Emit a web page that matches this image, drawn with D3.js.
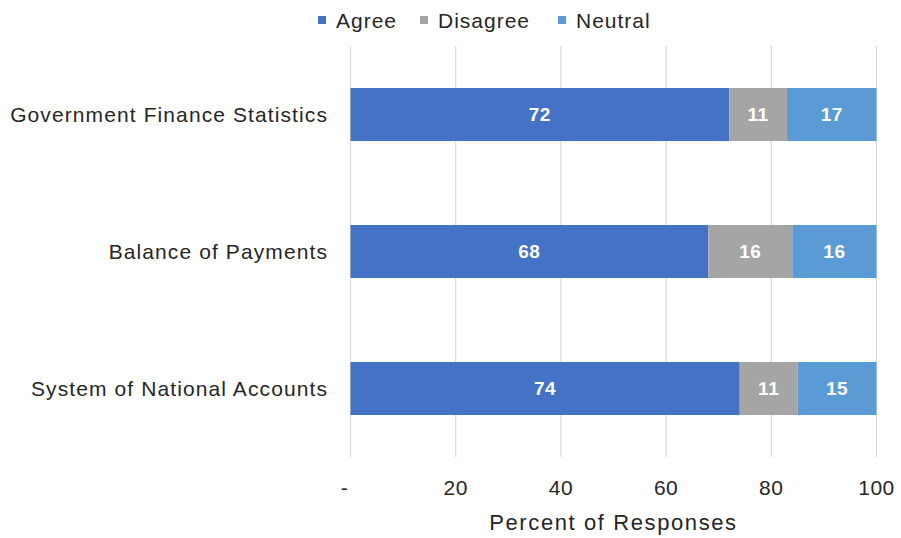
<!DOCTYPE html>
<html>
<head>
<meta charset="utf-8">
<script src="https://cdn.jsdelivr.net/npm/d3@7"></script>
<style>
  body { margin: 0; background: #fff; }
  svg { font-family: "Liberation Sans", Arial, sans-serif; }
</style>
</head>
<body>
<svg id="chart" width="901" height="538"></svg>
<script>
// 数据
const categories = ["Government Finance Statistics", "Balance of Payments", "System of National Accounts"];
const seriesNames = ["Agree", "Disagree", "Neutral"];
const agree = [72, 68, 74];
const disagree = [11, 16, 11];
const neutral = [17, 16, 15];
const tickValues = [0, 20, 40, 60, 80, 100];
const tickLabels = ["-", "20", "40", "60", "80", "100"];
const axisTitle = "Percent of Responses";

const colors = ["#4472C4", "#A5A5A5", "#5B9BD5"];
const textColor = "#262626";

const svg = d3.select("#chart");
const margin = { left: 350.5, right: 24.5, top: 46, bottom: 81 };
const W = 901, H = 538;

const x = d3.scaleLinear().domain([0, 100]).range([margin.left, W - margin.right]);
const y = d3.scaleBand().domain(categories).range([margin.top, H - margin.bottom])
    .paddingInner(0.613).paddingOuter(0.3065);

// 堆叠数据
const rows = categories.map((c, i) => ({ cat: c, Agree: agree[i], Disagree: disagree[i], Neutral: neutral[i] }));
const stacked = d3.stack().keys(seriesNames)(rows);

// 网格线
svg.append("g")
    .selectAll("line")
    .data(tickValues)
    .join("line")
    .attr("x1", d => x(d)).attr("x2", d => x(d))
    .attr("y1", margin.top).attr("y2", H - margin.bottom)
    .attr("stroke", "#D9D9D9")
    .attr("stroke-width", 1.2);

// 条形
const layer = svg.append("g")
    .selectAll("g")
    .data(stacked)
    .join("g")
    .attr("fill", (d, i) => colors[i]);

layer.selectAll("rect")
    .data(d => d)
    .join("rect")
    .attr("x", d => x(d[0]))
    .attr("width", d => x(d[1]) - x(d[0]))
    .attr("y", d => y(d.data.cat))
    .attr("height", y.bandwidth());

// 数据标签
layer.selectAll("text")
    .data(d => d.map(v => ({ v, key: d.key })))
    .join("text")
    .attr("x", d => (x(d.v[0]) + x(d.v[1])) / 2)
    .attr("y", d => y(d.v.data.cat) + y.bandwidth() / 2)
    .attr("dy", "0.36em")
    .attr("text-anchor", "middle")
    .attr("fill", "#fff")
    .attr("font-weight", "bold")
    .attr("font-size", 19)
    .attr("letter-spacing", 0.5)
    .text(d => d.v.data[d.key]);

// 类别标签
svg.append("g")
    .selectAll("text")
    .data(categories)
    .join("text")
    .attr("x", 328)
    .attr("y", d => y(d) + y.bandwidth() / 2)
    .attr("dy", "0.36em")
    .attr("text-anchor", "end")
    .attr("font-size", 21)
    .attr("letter-spacing", 1.1)
    .attr("fill", textColor)
    .text(d => d);

// x轴刻度标签
svg.append("g")
    .selectAll("text")
    .data(tickValues)
    .join("text")
    .attr("x", (d, i) => i === 0 ? x(d) - 6 : x(d))
    .attr("y", 487)
    .attr("dy", "0.36em")
    .attr("text-anchor", "middle")
    .attr("font-size", 21)
    .attr("letter-spacing", 0.5)
    .attr("fill", textColor)
    .text((d, i) => tickLabels[i]);

// 轴标题
svg.append("text")
    .attr("x", (x(0) + x(100)) / 2)
    .attr("y", 522)
    .attr("dy", "0.36em")
    .attr("text-anchor", "middle")
    .attr("font-size", 22)
    .attr("letter-spacing", 1.6)
    .attr("fill", textColor)
    .text(axisTitle);

// 图例
const legendX = [318, 420, 558];
const legend = svg.append("g")
    .selectAll("g")
    .data(seriesNames)
    .join("g")
    .attr("transform", (d, i) => `translate(${legendX[i]},20)`);

legend.append("rect")
    .attr("x", 0).attr("y", -4)
    .attr("width", 8).attr("height", 8)
    .attr("fill", (d, i) => colors[i]);

legend.append("text")
    .attr("x", 18)
    .attr("y", 0)
    .attr("dy", "0.36em")
    .attr("font-size", 21)
    .attr("letter-spacing", 1)
    .attr("fill", textColor)
    .text(d => d);
</script>
</body>
</html>
